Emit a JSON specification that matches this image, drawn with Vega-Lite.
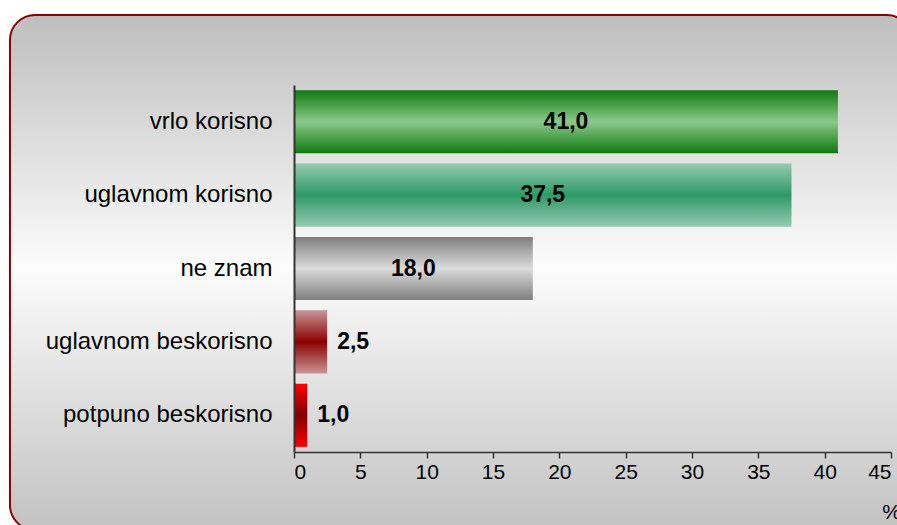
{
  "$schema": "https://vega.github.io/schema/vega-lite/v6.json",
  "width": 597,
  "height": 367,
  "autosize": {"type": "none"},
  "padding": {"left": 294, "top": 85, "right": 6, "bottom": 73},
  "background": "white",
  "config": {
    "view": {"stroke": null},
    "font": "Liberation Sans",
    "locale": {"number": {"decimal": ",", "thousands": ".", "grouping": [3], "currency": ["", " €"]}},
    "axisX": {
      "grid": false, "domainColor": "#333333", "domainWidth": 1.5, "tickColor": "#333333", "tickSize": 6, "tickWidth": 1.5,
      "labelFontSize": 21, "labelColor": "#000000", "labelPadding": 3, "labelFont": "Liberation Sans",
      "titleFontSize": 21, "titleFontWeight": "normal", "titleColor": "#000000", "titleAnchor": "end", "titleAlign": "center", "titlePadding": 19, "titleFont": "Liberation Sans"
    },
    "axisY": {
      "grid": false, "ticks": false, "domainColor": "#333333", "domainWidth": 2,
      "labelFontSize": 24, "labelColor": "#000000", "labelPadding": 22, "labelLimit": 300, "labelFont": "Liberation Sans"
    }
  },
  "data": {"values": [
    {"cat": "vrlo korisno", "value": 41.0},
    {"cat": "uglavnom korisno", "value": 37.5},
    {"cat": "ne znam", "value": 18.0},
    {"cat": "uglavnom beskorisno", "value": 2.5},
    {"cat": "potpuno beskorisno", "value": 1.0}
  ]},
  "layer": [
    {
      "data": {"values": [{}]},
      "mark": {"type": "rect", "cornerRadius": 25, "stroke": "#8b0000", "strokeWidth": 2,
        "fill": {"gradient": "linear", "x1": 0, "y1": 0, "x2": 0, "y2": 1, "stops": [
          {"offset": 0, "color": "#bebebe"}, {"offset": 0.49, "color": "#fcfcfc"}, {"offset": 1, "color": "#c2c2c2"}]}},
      "encoding": {
        "x": {"datum": -21.41, "type": "quantitative", "scale": {"domain": [0, 45], "nice": false}, "title": "%", "axis": {"values": [0,5,10,15,20,25,30,35,40,45], "zindex": 2}},
        "x2": {"datum": 46.58},
        "y": {"datum": 1.1907, "type": "quantitative", "scale": {"domain": [0, 1], "nice": false, "zero": false}, "axis": null},
        "y2": {"datum": -0.2125}
      }
    },
    {
      "encoding": {
        "y": {"field": "cat", "type": "nominal", "title": null, "axis": {"zindex": 2},
          "scale": {"domain": ["vrlo korisno", "uglavnom korisno", "ne znam", "uglavnom beskorisno", "potpuno beskorisno"], "paddingInner": 0.14, "paddingOuter": 0.07}},
        "x": {"field": "value", "type": "quantitative", "scale": {"domain": [0, 45], "nice": false}, "title": "%", "axis": {"values": [0,5,10,15,20,25,30,35,40,45], "zindex": 2}}
      },
      "layer": [
        {"transform": [{"filter": "datum.cat === 'vrlo korisno'"}],
         "mark": {"type": "bar", "fill": {"gradient": "linear", "x1": 0, "y1": 0, "x2": 0, "y2": 1, "stops": [
           {"offset": 0, "color": "#0d7a0d"}, {"offset": 0.5, "color": "#8cc88c"}, {"offset": 1, "color": "#0d7a0d"}]}}},
        {"transform": [{"filter": "datum.cat === 'uglavnom korisno'"}],
         "mark": {"type": "bar", "fill": {"gradient": "linear", "x1": 0, "y1": 0, "x2": 0, "y2": 1, "stops": [
           {"offset": 0, "color": "#94ccb2"}, {"offset": 0.5, "color": "#2e9966"}, {"offset": 1, "color": "#94ccb2"}]}}},
        {"transform": [{"filter": "datum.cat === 'ne znam'"}],
         "mark": {"type": "bar", "fill": {"gradient": "linear", "x1": 0, "y1": 0, "x2": 0, "y2": 1, "stops": [
           {"offset": 0, "color": "#7e7e7e"}, {"offset": 0.5, "color": "#dcdcdc"}, {"offset": 1, "color": "#7e7e7e"}]}}},
        {"transform": [{"filter": "datum.cat === 'uglavnom beskorisno'"}],
         "mark": {"type": "bar", "fill": {"gradient": "linear", "x1": 0, "y1": 0, "x2": 0, "y2": 1, "stops": [
           {"offset": 0, "color": "#c99595"}, {"offset": 0.5, "color": "#8b0000"}, {"offset": 1, "color": "#c99595"}]}}},
        {"transform": [{"filter": "datum.cat === 'potpuno beskorisno'"}],
         "mark": {"type": "bar", "fill": {"gradient": "linear", "x1": 0, "y1": 0, "x2": 0, "y2": 1, "stops": [
           {"offset": 0, "color": "#ff0000"}, {"offset": 0.5, "color": "#800000"}, {"offset": 1, "color": "#ff0000"}]}}},
        {"transform": [{"filter": "datum.value >= 10"}, {"calculate": "datum.value / 2", "as": "mid"}],
         "mark": {"type": "text", "fontSize": 23, "fontWeight": "bold", "color": "#000000", "align": "center", "baseline": "middle"},
         "encoding": {"x": {"field": "mid", "type": "quantitative"}, "text": {"field": "value", "type": "quantitative", "format": ".1f"}}},
        {"transform": [{"filter": "datum.value < 10"}],
         "mark": {"type": "text", "fontSize": 23, "fontWeight": "bold", "color": "#000000", "align": "left", "baseline": "middle", "dx": 10},
         "encoding": {"text": {"field": "value", "type": "quantitative", "format": ".1f"}}}
      ]
    }
  ],
  "resolve": {"scale": {"y": "independent"}}
}
